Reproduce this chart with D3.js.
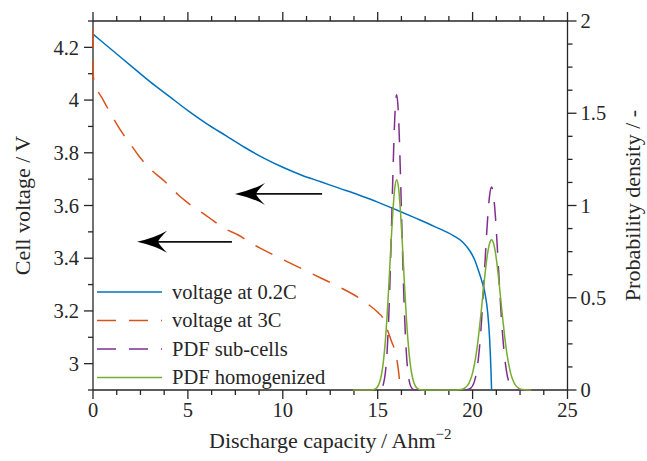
<!DOCTYPE html>
<html><head><meta charset="utf-8">
<script src="https://cdn.jsdelivr.net/npm/d3@7"></script>
<style>
body{margin:0;background:#fff}
svg{display:block}
</style>
</head><body><svg id="c" width="647" height="461"></svg>
<script>
// ---------- data ----------
const capBlue = [0,1,2,3,4,5,6,7,8,9,10,11,12,13,14,15,16,17,18,19,19.5,19.88,20.1,20.3,20.5,20.67,20.8,20.9,20.97,21.0];
const vBlue   = [4.25,4.19,4.13,4.07,4.015,3.96,3.91,3.865,3.82,3.78,3.745,3.715,3.69,3.665,3.64,3.613,3.583,3.552,3.52,3.485,3.46,3.425,3.395,3.355,3.31,3.26,3.19,3.09,2.97,2.9];

const capOrange = [0,0.02,0.06,0.15,0.46,1.0,1.5,2,2.5,3,3.8,4.5,5,6,7,7.6,8.5,9.3,10,11,12,13,14,14.5,15,15.3,15.5,15.7,16.0,16.1,16.2];
const vOrange   = [4.27,4.09,4.07,4.05,4.01,3.94,3.88,3.83,3.78,3.74,3.69,3.64,3.61,3.56,3.51,3.49,3.45,3.42,3.395,3.36,3.325,3.29,3.25,3.225,3.195,3.17,3.13,3.09,3.02,2.97,2.9];

const capPdf = [13.7,14.2,14.6,14.7,14.8,14.9,15.0,15.1,15.2,15.3,15.4,15.5,15.6,15.7,15.8,15.9,16.0,16.1,16.2,16.3,16.4,16.5,16.6,16.7,16.8,16.9,17.0,17.1,17.2,17.3,17.4,17.8,18.3,18.8,19.1,19.2,19.3,19.4,19.5,19.6,19.7,19.8,19.9,20.0,20.1,20.2,20.3,20.4,20.5,20.6,20.7,20.8,20.9,21.0,21.1,21.2,21.3,21.4,21.5,21.6,21.7,21.8,21.9,22.0,22.1,22.2,22.3,22.4,22.5,22.6,22.7,22.8,22.9,23.1];
const pdfSub = [0,0,
  0,0,0,0,0.001,0.002,0.010,0.032,0.090,0.217,0.445,0.779,1.162,1.477,1.600,1.477,1.162,0.779,0.445,0.217,0.090,0.032,0.010,0.002,0.001,0,0,0,0,
  0,0,0,
  0,0,0,0,0,0.001,0.002,0.004,0.010,0.023,0.048,0.093,0.166,0.274,0.419,0.593,0.777,0.943,1.058,1.100,1.058,0.943,0.777,0.593,0.419,0.274,0.166,0.093,0.048,0.023,0.010,0.004,0.002,0.001,0,0,0,0,0,
  0];
const pdfHom = [0,0,
  0,0.001,0.003,0.008,0.019,0.042,0.084,0.154,0.262,0.411,0.593,0.790,0.968,1.094,1.140,1.094,0.968,0.790,0.593,0.411,0.262,0.154,0.084,0.042,0.019,0.008,0.003,0.001,0,
  0,0,0,
  0,0.001,0.002,0.003,0.006,0.012,0.021,0.036,0.059,0.093,0.141,0.203,0.281,0.373,0.474,0.576,0.670,0.747,0.797,0.815,0.797,0.747,0.670,0.576,0.474,0.373,0.281,0.203,0.141,0.093,0.059,0.036,0.021,0.012,0.006,0.003,0.002,0.001,0,
  0];

const xTickVals = [0,5,10,15,20,25];
const xTickLabels = ["0","5","10","15","20","25"];
const yLTickVals = [3,3.2,3.4,3.6,3.8,4,4.2];
const yLTickLabels = ["3","3.2","3.4","3.6","3.8","4","4.2"];
const yRTickVals = [0,0.5,1,1.5,2];
const yRTickLabels = ["0","0.5","1","1.5","2"];
const seriesNames = ["voltage at 0.2C","voltage at 3C","PDF sub-cells","PDF homogenized"];
// arrows (capacity, voltage): tail -> tip
const arrowTail = [[12.07,3.644],[7.32,3.462]];
const arrowTip  = [[7.48,3.644],[2.32,3.462]];

// ---------- layout ----------
const FONT = "Liberation Serif";
const L=93, R=567.5, T=21, B=390;
const C = {blue:"#0072BD", orange:"#D95319", purple:"#7E2F8E", green:"#77AC30", ax:"#262626"};
const dash = "19,13";

const x = d3.scaleLinear().domain([0,25]).range([L,R]);
const yL = d3.scaleLinear().domain([2.9,4.3]).range([B,T]);
const yR = d3.scaleLinear().domain([0,2]).range([B,T]);

const svg = d3.select("#c");
const g = svg.append("g");
const txt = (sel)=>sel.append("text").style("font-family",FONT).attr("fill","#262626");

// axes box
const axG = g.append("g").attr("stroke",C.ax).attr("stroke-width",1.3).attr("fill","none");
axG.append("line").attr("x1",L).attr("x2",R).attr("y1",B).attr("y2",B);
axG.append("line").attr("x1",L).attr("x2",R).attr("y1",T).attr("y2",T);
axG.append("line").attr("x1",L).attr("x2",L).attr("y1",T).attr("y2",B);
axG.append("line").attr("x1",R).attr("x2",R).attr("y1",T).attr("y2",B);

const MAJ=9, MIN=5;
const near=(a,b)=>Math.abs(a-b)<1e-6;
d3.range(0,25.0001,1.25).forEach(v=>{
  const len = xTickVals.some(t=>near(t,v))?MAJ:MIN;
  axG.append("line").attr("x1",x(v)).attr("x2",x(v)).attr("y1",B).attr("y2",B+len);
  axG.append("line").attr("x1",x(v)).attr("x2",x(v)).attr("y1",T).attr("y2",T-len);
});
d3.range(2.9,4.3001,0.1).forEach(v=>{
  const len = yLTickVals.some(t=>near(t,v))?MAJ:MIN;
  axG.append("line").attr("x1",L).attr("x2",L-len).attr("y1",yL(v)).attr("y2",yL(v));
});
d3.range(0,2.0001,0.125).forEach(v=>{
  const len = yRTickVals.some(t=>near(t,v))?MAJ:MIN;
  axG.append("line").attr("x1",R).attr("x2",R+len).attr("y1",yR(v)).attr("y2",yR(v));
});

// tick labels
const fs = 20.5;
xTickVals.forEach((v,i)=>{
  txt(g).attr("x",x(v)).attr("y",B+27).attr("text-anchor","middle")
   .attr("font-size",fs).text(xTickLabels[i]);
});
yLTickVals.forEach((v,i)=>{
  txt(g).attr("x",L-14).attr("y",yL(v)).attr("dy","0.35em").attr("text-anchor","end")
   .attr("font-size",fs).text(yLTickLabels[i]);
});
yRTickVals.forEach((v,i)=>{
  txt(g).attr("x",R+13).attr("y",yR(v)).attr("dy","0.35em").attr("text-anchor","start")
   .attr("font-size",fs).text(yRTickLabels[i]);
});

// axis titles
const xt = txt(g).attr("x",(L+R)/2).attr("y",448).attr("text-anchor","middle").attr("font-size",22);
xt.append("tspan").text("Discharge capacity\u2009/\u2009Ahm");
xt.append("tspan").attr("dy",-9).attr("font-size",15).text("\u22122");
txt(g).attr("transform",`translate(30,${(T+B)/2}) rotate(-90)`).attr("text-anchor","middle")
 .attr("font-size",22).text("Cell voltage / V");
txt(g).attr("transform",`translate(640,${(T+B)/2}) rotate(-90)`).attr("text-anchor","middle")
 .attr("font-size",22).text("Probability density / -");

// series
const lineL = d3.line().x(d=>x(d[0])).y(d=>yL(d[1])).curve(d3.curveMonotoneX);
const lineR = d3.line().x(d=>x(d[0])).y(d=>yR(d[1])).curve(d3.curveMonotoneX);
const dBlue = capBlue.map((c,i)=>[c,vBlue[i]]);
const dOr = capOrange.map((c,i)=>[c,vOrange[i]]);
const dSub = capPdf.map((c,i)=>[c,pdfSub[i]]);
const dHom = capPdf.map((c,i)=>[c,pdfHom[i]]);

const series = [
  {d:lineL(dBlue), color:C.blue, dash:null},
  {d:lineL(dOr), color:C.orange, dash:dash},
  {d:lineR(dSub), color:C.purple, dash:dash},
  {d:lineR(dHom), color:C.green, dash:null}
];
series.forEach(s=>{
  g.append("path").attr("d",s.d).attr("fill","none").attr("stroke",s.color)
   .attr("stroke-width",1.5).attr("stroke-dasharray",s.dash);
});

// arrows
arrowTail.forEach((t,i)=>{
  const tip = arrowTip[i];
  const tx=x(tip[0]), ty=yL(tip[1]), ex=x(t[0]);
  g.append("line").attr("x1",tx+20).attr("x2",ex).attr("y1",ty).attr("y2",ty)
   .attr("stroke","#111").attr("stroke-width",1.6);
  const hl=30, hw=11, nb=21;
  g.append("path").attr("fill","#000")
   .attr("d",`M${tx},${ty} Q${tx+18},${ty-4} ${tx+hl},${ty-hw} Q${tx+22},${ty-3} ${tx+nb},${ty} Q${tx+22},${ty+3} ${tx+hl},${ty+hw} Q${tx+18},${ty+4} ${tx},${ty} Z`);
});

// legend
const legY0 = 292, legDy = 28.5;
series.forEach((s,i)=>{
  const yy = legY0 + i*legDy;
  g.append("line").attr("x1",97).attr("x2",162).attr("y1",yy).attr("y2",yy)
   .attr("stroke",s.color).attr("stroke-width",1.5).attr("stroke-dasharray",s.dash);
  txt(g).attr("x",172).attr("y",yy).attr("dy","0.33em").attr("font-size",20.5).text(seriesNames[i]);
});
</script>
</body></html>
